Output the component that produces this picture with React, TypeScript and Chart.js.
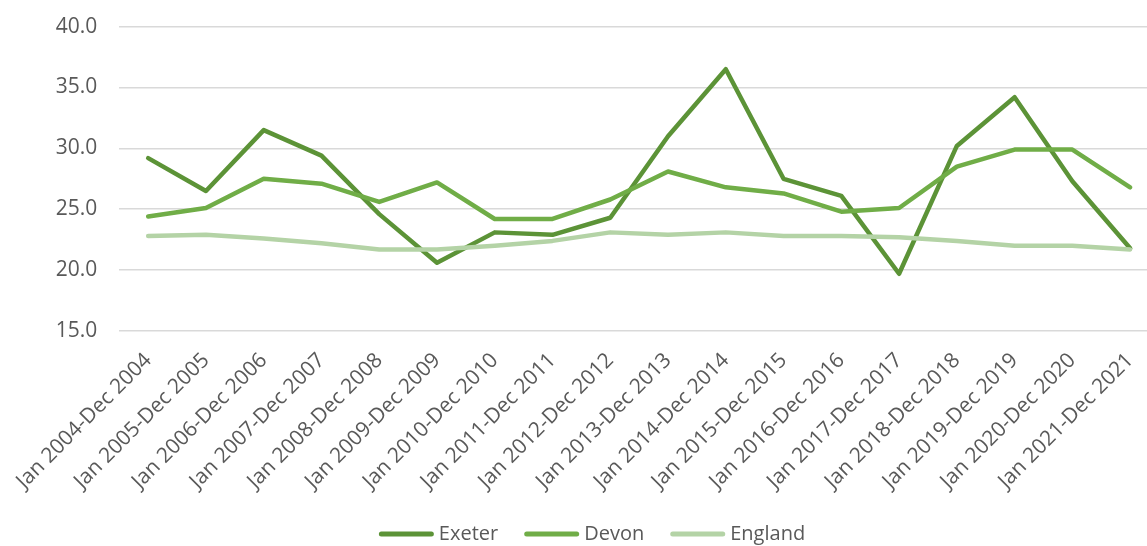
import React, { useEffect, useRef } from "react";
import { Chart, registerables } from "chart.js";

Chart.register(...registerables);

// Rolling annual periods shown on the category axis
const periods: string[] = [
  "Jan 2004-Dec 2004",
  "Jan 2005-Dec 2005",
  "Jan 2006-Dec 2006",
  "Jan 2007-Dec 2007",
  "Jan 2008-Dec 2008",
  "Jan 2009-Dec 2009",
  "Jan 2010-Dec 2010",
  "Jan 2011-Dec 2011",
  "Jan 2012-Dec 2012",
  "Jan 2013-Dec 2013",
  "Jan 2014-Dec 2014",
  "Jan 2015-Dec 2015",
  "Jan 2016-Dec 2016",
  "Jan 2017-Dec 2017",
  "Jan 2018-Dec 2018",
  "Jan 2019-Dec 2019",
  "Jan 2020-Dec 2020",
  "Jan 2021-Dec 2021",
];

const exeter: number[] = [
  29.2, 26.5, 31.5, 29.4, 24.6, 20.6, 23.1, 22.9, 24.3, 31.0, 36.5, 27.5, 26.1,
  19.7, 30.2, 34.2, 27.3, 21.8,
];

const devon: number[] = [
  24.4, 25.1, 27.5, 27.1, 25.6, 27.2, 24.2, 24.2, 25.8, 28.1, 26.8, 26.3, 24.8,
  25.1, 28.5, 29.9, 29.9, 26.8,
];

const england: number[] = [
  22.8, 22.9, 22.6, 22.2, 21.7, 21.7, 22.0, 22.4, 23.1, 22.9, 23.1, 22.8, 22.8,
  22.7, 22.4, 22.0, 22.0, 21.7,
];

const yTicks = { min: 15, max: 40, step: 5 };

const COLORS = {
  exeter: "#5c9337",
  devon: "#70ad47",
  england: "#b4d3a6",
  text: "#595959",
  grid: "#d9d9d9",
};

const FONT = "'Open Sans', 'Noto Sans', sans-serif";

// The canvas sits slightly above the page top so the plot area starts higher
const CANVAS_SHIFT = 8;

// Bottom legend: short thick line sample followed by the series name
const legendPlugin = {
  id: "seriesLegend",
  afterDraw(chart: any) {
    const ctx = chart.ctx as CanvasRenderingContext2D;
    const sample = 55;
    const gapText = 5;
    const gapItem = 26;
    const centerX = 592;
    const y = 534 + CANVAS_SHIFT;
    ctx.save();
    ctx.font = `20px ${FONT}`;
    const items = chart.data.datasets.map((ds: any) => ({
      label: ds.label as string,
      color: ds.borderColor as string,
      w: ctx.measureText(ds.label).width,
    }));
    const total =
      items.reduce((s: number, it: any) => s + sample + gapText + it.w, 0) +
      gapItem * (items.length - 1);
    let x = centerX - total / 2;
    for (const it of items) {
      ctx.strokeStyle = it.color;
      ctx.lineWidth = 5;
      ctx.lineCap = "round";
      ctx.beginPath();
      ctx.moveTo(x + 2.5, y);
      ctx.lineTo(x + sample - 2.5, y);
      ctx.stroke();
      ctx.fillStyle = COLORS.text;
      ctx.textBaseline = "middle";
      ctx.textAlign = "left";
      ctx.fillText(it.label, x + sample + gapText, y);
      x += sample + gapText + it.w + gapItem;
    }
    ctx.restore();
  },
};

export default function App() {
  const canvasRef = useRef<HTMLCanvasElement | null>(null);

  useEffect(() => {
    const canvas = canvasRef.current;
    if (!canvas) return;

    const line = (label: string, data: number[], color: string, order: number) => ({
      label,
      data,
      borderColor: color,
      backgroundColor: color,
      borderWidth: 4.5,
      borderCapStyle: "round" as const,
      borderJoinStyle: "round" as const,
      pointRadius: 0,
      pointHoverRadius: 0,
      tension: 0,
      fill: false,
      order,
    });

    const chart = new Chart(canvas, {
      type: "line",
      data: {
        labels: periods,
        datasets: [
          line("Exeter", exeter, COLORS.exeter, 3),
          line("Devon", devon, COLORS.devon, 2),
          line("England", england, COLORS.england, 1),
        ],
      },
      plugins: [legendPlugin],
      options: {
        animation: false,
        responsive: false,
        maintainAspectRatio: false,
        devicePixelRatio: 1,
        layout: { padding: { top: 18, right: 5, left: 0, bottom: 0 } },
        plugins: {
          tooltip: { enabled: false },
          legend: { display: false },
        },
        scales: {
          x: {
            type: "category",
            offset: true,
            grid: { display: false, drawTicks: false },
            border: { display: false },
            ticks: {
              color: COLORS.text,
              font: { family: FONT, size: 21 },
              maxRotation: 45,
              minRotation: 45,
              autoSkip: false,
              padding: 17,
            },
            afterFit: (scale: any) => {
              scale.height = 215;
            },
          },
          y: {
            min: yTicks.min,
            max: yTicks.max,
            grid: { color: COLORS.grid, lineWidth: 1.5, drawTicks: false },
            border: { display: false },
            ticks: {
              stepSize: yTicks.step,
              color: COLORS.text,
              font: { family: FONT, size: 21 },
              padding: 22,
              callback: (v: any) => Number(v).toFixed(1),
            },
            afterFit: (scale: any) => {
              scale.width = 116;
            },
          },
        },
      },
    });

    return () => chart.destroy();
  }, []);

  return (
    <div
      style={{
        position: "fixed",
        left: 0,
        top: 0,
        width: 1147,
        height: 546,
        overflow: "hidden",
        background: "#ffffff",
      }}
    >
      <canvas
        ref={canvasRef}
        width={1165}
        height={546 + CANVAS_SHIFT}
        style={{
          display: "block",
          position: "absolute",
          left: 0,
          top: -CANVAS_SHIFT,
          width: 1165,
          height: 546 + CANVAS_SHIFT,
        }}
      />
    </div>
  );
}
